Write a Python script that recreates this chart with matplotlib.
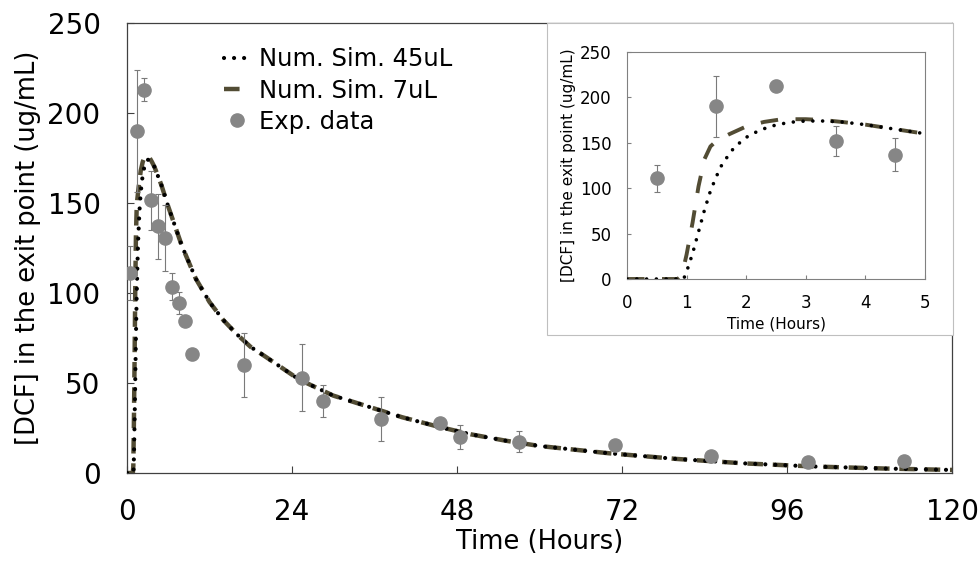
import numpy as np
import matplotlib.pyplot as plt
from matplotlib.patches import Rectangle

plt.rcParams['font.family'] = ['DejaVu Sans']

# experimental data (hours, ug/mL, +/- error)
t_exp = [0.5, 1.5, 2.5, 3.5, 4.5, 5.5, 6.5, 7.5, 8.5, 9.5,
         17, 25.5, 28.5, 37, 45.5, 48.5, 57, 71, 85, 99, 113]
c_exp = [111, 190, 213, 151.5, 137, 130.5, 103.5, 94.5, 84.5, 66,
         60, 53, 40, 30, 28, 20, 17.5, 15.5, 9.5, 6, 6.5]
err_exp = [15, 34, 6.5, 16.5, 18, 18.5, 7.5, 6, 1.5, 3,
           18, 18.5, 9, 12, 2, 6.5, 6, 2, 1.5, 1, 1]

# numerical simulation, 45 uL
t_45 = [0, 0.95, 1.0, 1.1, 1.2, 1.3, 1.4, 1.5, 1.6, 1.8, 2.0, 2.2, 2.4, 2.6,
        2.8, 3.0, 3.3, 3.6, 4.0, 4.5, 5.0, 6, 7, 8, 9, 10, 12, 14, 16, 18,
        20, 25, 30, 35, 40, 45, 50, 55, 60, 70, 80, 90, 100, 110, 120]
c_45 = [0, 0, 8, 28, 52, 76, 97, 113, 127, 145, 156, 163, 168, 171,
        173, 174, 174, 173, 170, 165, 160, 148, 137, 126, 117, 108, 95, 85, 77, 70,
        65, 52, 43, 37, 31, 26, 21.5, 18, 15, 11, 7.8, 5.3, 3.6, 2.5, 1.7]

# numerical simulation, 7 uL
t_7 = [0, 0.85, 0.92, 1.0, 1.1, 1.2, 1.3, 1.4, 1.5, 1.7, 2.0, 2.3, 2.6,
       3.0, 3.3, 3.6, 4.0, 4.5, 5.0, 6, 7, 8, 9, 10, 12, 14, 16, 18,
       20, 25, 30, 35, 40, 45, 50, 55, 60, 70, 80, 90, 100, 110, 120]
c_7 = [0, 0, 4, 27, 62, 102, 132, 146, 152, 159, 168, 173, 176,
       176, 175, 173, 170, 165, 160, 148, 137, 126, 117, 108, 95, 85, 77, 70,
       65, 52, 43, 37, 31, 26, 21.5, 18, 15, 11, 7.8, 5.3, 3.6, 2.5, 1.7]

main_xticks = [0, 24, 48, 72, 96, 120]
inset_xticks = [0, 1, 2, 3, 4, 5]
yticks = [0, 50, 100, 150, 200, 250]

olive = '#524C34'
gray = '#868686'
spine_col = '#404040'

fig = plt.figure(figsize=(9.8, 5.61), dpi=100)
ax = fig.add_axes([127 / 980, 88 / 561, 825 / 980, 450 / 561])

l45, = ax.plot(t_45, c_45, color='black', lw=3, linestyle=(0, (0.01, 2.4)),
               dash_capstyle='round', label='Num. Sim. 45uL', zorder=3)
l7, = ax.plot(t_7, c_7, color=olive, lw=3.2, linestyle=(0, (3.5, 2.2)),
              label='Num. Sim. 7uL', zorder=2)
eb = ax.errorbar(t_exp, c_exp, yerr=err_exp, fmt='o', color=gray,
                 ecolor='#7a7a7a', elinewidth=0.8, capsize=2.5, capthick=0.8,
                 markersize=9.5, label='Exp. data', zorder=4)

ax.set_xlim(0, 120)
ax.set_ylim(0, 250)
ax.set_xticks(main_xticks)
ax.set_yticks(yticks)
ax.tick_params(direction='in', length=5, width=0.8, labelsize=20, color=spine_col)
ax.tick_params(axis='y', pad=19)
ax.tick_params(axis='x', pad=18)
for s in ax.spines.values():
    s.set_color(spine_col)
    s.set_linewidth(0.9)
ax.set_xlabel('Time (Hours)', fontsize=18.5, labelpad=2)
ax.set_ylabel('[DCF] in the exit point (ug/mL)', fontsize=18.5, labelpad=5)

ax.legend(handles=[l45, l7, eb[0]], labels=['Num. Sim. 45uL', 'Num. Sim. 7uL', 'Exp. data'],
          loc='upper left', bbox_to_anchor=(0.118, 0.946), frameon=False,
          fontsize=17.5, handlelength=1.0, handletextpad=0.42,
          labelspacing=0.3, borderpad=0, borderaxespad=0)

# frame around the inset
ax.add_patch(Rectangle((547 / 980, 226 / 561), 406 / 980, 312 / 561,
                       transform=fig.transFigure, facecolor='white',
                       edgecolor='#bfbfbf', lw=0.8, zorder=6, clip_on=False))

axin = fig.add_axes([627 / 980, 282 / 561, 298 / 980, 227 / 561])
axin.plot(t_45, c_45, color='black', lw=2.6, linestyle=(0, (0.01, 2.7)),
          dash_capstyle='round', zorder=3)
axin.plot(t_7, c_7, color=olive, lw=2.8, linestyle=(0, (4.5, 4.5)), zorder=2)
axin.errorbar(t_exp, c_exp, yerr=err_exp, fmt='o', color=gray,
              ecolor='#7a7a7a', elinewidth=0.8, capsize=2.5, capthick=0.8,
              markersize=9.5, zorder=4)
axin.set_xlim(0, 5)
axin.set_ylim(0, 250)
axin.set_xticks(inset_xticks)
axin.set_yticks(yticks)
axin.tick_params(direction='in', length=3, width=0.8, labelsize=12, pad=11,
                 color='#808080')
for s in axin.spines.values():
    s.set_color('#808080')
    s.set_linewidth(0.8)
axin.set_xlabel('Time (Hours)', fontsize=11, labelpad=3)
axin.set_ylabel('[DCF] in the exit point (ug/mL)', fontsize=11, labelpad=3)

fig.savefig('out.png', dpi=100)
